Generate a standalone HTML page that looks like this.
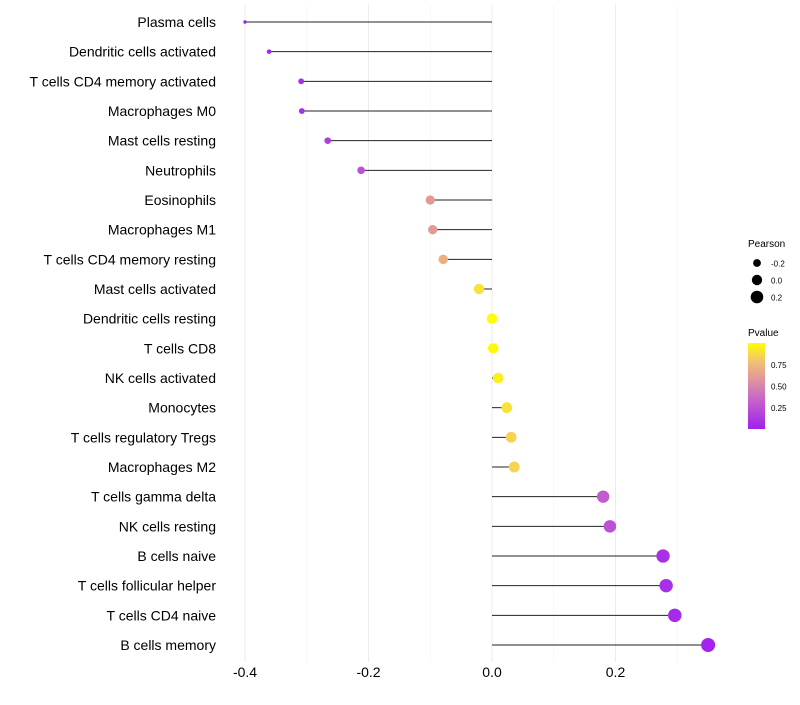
<!DOCTYPE html>
<html><head><meta charset="utf-8"><style>
body{margin:0;background:#fff;font-family:"Liberation Sans",sans-serif}
</style></head><body>
<svg id="chart" width="800" height="700" xmlns="http://www.w3.org/2000/svg" font-family="Liberation Sans, sans-serif">
<defs><linearGradient id="pg" x1="0" y1="1" x2="0" y2="0">
<stop offset="0" stop-color="#a020f0"/><stop offset="0.35" stop-color="#c865c8"/><stop offset="0.6" stop-color="#e29a98"/><stop offset="0.8" stop-color="#f3c46e"/><stop offset="1" stop-color="#ffff00"/></linearGradient></defs>
<g id="grid"></g><g id="marks"></g><g id="labels"></g>
<g>
<text x="748" y="247" font-size="10">Pearson</text>
<circle cx="757" cy="263" r="3.9" fill="#000"/>
<text x="771" y="266.5" font-size="8">-0.2</text>
<circle cx="757" cy="280" r="5.2" fill="#000"/>
<text x="771" y="283.5" font-size="8">0.0</text>
<circle cx="757" cy="297" r="6.3" fill="#000"/>
<text x="771" y="300.5" font-size="8">0.2</text>
<text x="748" y="336" font-size="10">Pvalue</text>
<rect x="748" y="343" width="17" height="86" fill="url(#pg)"/>
<text x="771" y="368" font-size="8">0.75</text>
<text x="771" y="389.5" font-size="8">0.50</text>
<text x="771" y="411" font-size="8">0.25</text>
</g>
</svg>
<script>
const categories=["Plasma cells","Dendritic cells activated","T cells CD4 memory activated","Macrophages M0","Mast cells resting","Neutrophils","Eosinophils","Macrophages M1","T cells CD4 memory resting","Mast cells activated","Dendritic cells resting","T cells CD8","NK cells activated","Monocytes","T cells regulatory  Tregs ","Macrophages M2","T cells gamma delta","NK cells resting","B cells naive","T cells follicular helper","T cells CD4 naive","B cells memory"];
const pearson=[-0.4,-0.361,-0.309,-0.308,-0.266,-0.212,-0.100,-0.096,-0.079,-0.021,0.0,0.002,0.01,0.024,0.031,0.036,0.18,0.191,0.277,0.282,0.296,0.35];
const pvalues=[0.01,0.03,0.08,0.08,0.15,0.25,0.6,0.6,0.7,0.9,0.99,0.98,0.95,0.9,0.85,0.85,0.3,0.25,0.08,0.07,0.05,0.02];
const xTicks=[-0.4,-0.2,0.0,0.2];
const xMinor=[-0.3,-0.1,0.1,0.3];
const NS="http://www.w3.org/2000/svg";
const xs=v=>492+v*617.5;
const ys=i=>22+i*(623/21);
const rs=v=>Math.sqrt(Math.max(1,2.9+(v+0.4)*61.5));
const stops=[[0,[160,32,240]],[0.35,[200,101,200]],[0.6,[226,154,152]],[0.8,[243,196,110]],[1,[255,255,0]]];
function col(p){for(let k=1;k<stops.length;k++){if(p<=stops[k][0]){const a=stops[k-1],b=stops[k],t=(p-a[0])/(b[0]-a[0]);return "rgb("+a[1].map((c,j)=>Math.round(c+(b[1][j]-c)*t)).join(",")+")";}}return "rgb(255,255,0)";}
function mk(tag,attrs,parent){const e=document.createElementNS(NS,tag);for(const k in attrs)e.setAttribute(k,attrs[k]);parent.appendChild(e);return e;}
const g=document.getElementById('grid'),m=document.getElementById('marks'),l=document.getElementById('labels');
xMinor.forEach(v=>{const e=mk('line',{x1:xs(v),x2:xs(v),y1:5,y2:662,stroke:'#f3f3f3','stroke-width':0.6},g);

});
xTicks.forEach(v=>{const e=mk('line',{x1:xs(v),x2:xs(v),y1:5,y2:662,stroke:'#ebebeb','stroke-width':1},g);


const t=mk('text',{x:xs(v),y:677,'font-size':14,'text-anchor':'middle',fill:'#000'},l);t.textContent=v.toFixed(1);

});
categories.forEach((c,i)=>{const y=ys(i);
const s=mk('line',{x1:xs(0),x2:xs(pearson[i]),y1:y,y2:y,stroke:'#222','stroke-width':1},m);


const d=mk('circle',{cx:xs(pearson[i]),cy:y,r:rs(pearson[i]),fill:col(pvalues[i])},m);


const t=mk('text',{x:216,y:y+5,'font-size':14,'text-anchor':'end',fill:'#000','xml:space':'preserve'},l);t.textContent=c;

});
</script>
</body></html>
